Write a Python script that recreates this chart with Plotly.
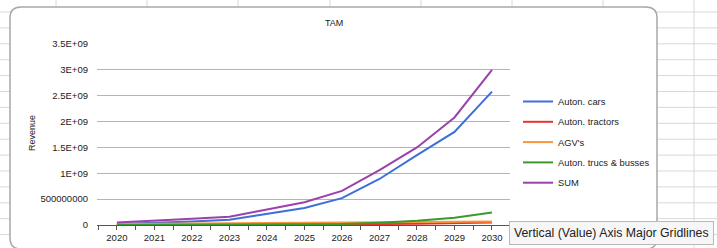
import plotly.graph_objects as go

years = [2020, 2021, 2022, 2023, 2024, 2025, 2026, 2027, 2028, 2029, 2030]
cars = [2.0e7, 4.0e7, 7.0e7, 1.0e8, 2.1e8, 3.3e8, 5.2e8, 8.9e8, 1.35e9, 1.8e9, 2.58e9]
tractors = [0, 1e6, 2e6, 3e6, 5e6, 8e6, 1.2e7, 1.8e7, 2.6e7, 3.6e7, 5.0e7]
agvs = [2.0e7, 2.3e7, 2.6e7, 3.0e7, 3.3e7, 3.7e7, 4.2e7, 4.8e7, 5.5e7, 6.2e7, 7.0e7]
trucks = [1e6, 2e6, 3e6, 5e6, 8e6, 1.2e7, 2.0e7, 4.5e7, 8.0e7, 1.4e8, 2.4e8]
sums = [5.0e7, 8.0e7, 1.2e8, 1.6e8, 3.0e8, 4.4e8, 6.6e8, 1.06e9, 1.5e9, 2.08e9, 3.0e9]

series_names = ["Auton. cars", "Auton. tractors", "AGV's", "Auton. trucs & busses", "SUM"]
series_values = [cars, tractors, agvs, trucks, sums]
series_colors = ["#3e6fd8", "#e8342b", "#f7963c", "#3b9b2a", "#9c41aa"]

ytick_vals = [0, 5e8, 1e9, 1.5e9, 2e9, 2.5e9, 3e9, 3.5e9]
ytick_text = ["0", "500000000", "1E+09", "1.5E+09", "2E+09", "2.5E+09", "3E+09", "3.5E+09"]

W, H = 717, 248
L, R, T, B = 97, 510, 44, 225


def px(x):
    return (x - L) / (R - L)


def py(y):
    return (B - y) / (B - T)


FONT = "Liberation Sans"

fig = go.Figure()
for i, (n, v, c) in enumerate(zip(series_names, series_values, series_colors)):
    fig.add_trace(go.Scatter(x=years, y=v, name=n, mode="lines",
                             line=dict(color=c, width=2), legendgroup=str(i)))

shapes = []
# spreadsheet grid background
for gx in [56, 147, 238, 330, 421, 512, 603, 694]:
    shapes.append(dict(type="line", xref="paper", yref="paper", x0=px(gx), x1=px(gx),
                       y0=py(-5), y1=py(260), line=dict(color="#d8d8d8", width=1), layer="below"))
gy = 12.0
while gy < 260:
    shapes.append(dict(type="line", xref="paper", yref="paper", x0=px(-5), x1=px(725),
                       y0=py(gy), y1=py(gy), line=dict(color="#d8d8d8", width=1), layer="below"))
    gy += 15.9
# chart box with rounded corners
x0, x1, y0, y1, r = 10, 657, 7, 249, 11
path = (f"M {px(x0 + r)},{py(y0)} L {px(x1 - r)},{py(y0)} Q {px(x1)},{py(y0)} {px(x1)},{py(y0 + r)} "
        f"L {px(x1)},{py(y1 - r)} Q {px(x1)},{py(y1)} {px(x1 - r)},{py(y1)} "
        f"L {px(x0 + r)},{py(y1)} Q {px(x0)},{py(y1)} {px(x0)},{py(y1 - r)} "
        f"L {px(x0)},{py(y0 + r)} Q {px(x0)},{py(y0)} {px(x0 + r)},{py(y0)} Z")
shapes.append(dict(type="path", xref="paper", yref="paper", path=path,
                   fillcolor="white", line=dict(color="#a8a8a8", width=1.5), layer="below"))

annotations = [
    dict(text="TAM", xref="paper", yref="paper", x=px(334), y=py(23), showarrow=False,
         xanchor="center", yanchor="middle",
         font=dict(family=FONT, size=9, color="#222")),
    dict(text="Revenue", xref="paper", yref="paper", x=px(32), y=py(133), showarrow=False,
         xanchor="center", yanchor="middle",
         textangle=-90, font=dict(family=FONT, size=9, color="#222")),
    dict(text="Vertical (Value) Axis Major Gridlines", xref="paper", yref="paper",
         x=px(611.5), y=py(232.5), showarrow=False, xanchor="center", yanchor="middle",
         bgcolor="#f6f6f6", bordercolor="#b8b8b8",
         borderwidth=1, borderpad=4, font=dict(family=FONT, size=12.3, color="#222")),
]

fig.update_layout(
    width=W, height=H,
    margin=dict(l=L, r=W - R, t=T, b=H - B, autoexpand=False),
    paper_bgcolor="white", plot_bgcolor="rgba(0,0,0,0)",
    showlegend=True,
    legend=dict(x=px(518), y=py(87), xanchor="left", yanchor="top",
                font=dict(family=FONT, size=9.4, color="#222"), bgcolor="rgba(0,0,0,0)",
                traceorder="grouped", tracegroupgap=1.3, itemwidth=30),
    shapes=shapes, annotations=annotations,
    xaxis=dict(range=[2019.47, 2030.48], tickvals=years, ticktext=[str(y) for y in years],
               showgrid=False, zeroline=False, showline=True, linecolor="#555", linewidth=1,
               ticks="outside", ticklen=4, tickcolor="#555", automargin=False,
               minor=dict(dtick=0.5, tick0=2019.5, ticks="outside", ticklen=4, tickcolor="#555", showgrid=False),
               tickfont=dict(family=FONT, size=9.5, color="#222"), fixedrange=True),
    yaxis=dict(range=[0, 3.5e9], tickvals=ytick_vals, ticktext=ytick_text,
               showgrid=True, gridcolor="#b4b4b4", gridwidth=1, zeroline=False,
               showline=False, ticks="", ticklabelstandoff=8, automargin=False,
               tickfont=dict(family=FONT, size=9.5, color="#222"), fixedrange=True),
    font=dict(family=FONT),
)

fig.write_html("out.html", config={"displayModeBar": False},
               post_script="document.body.style.margin='0';document.body.style.overflow='hidden';")
